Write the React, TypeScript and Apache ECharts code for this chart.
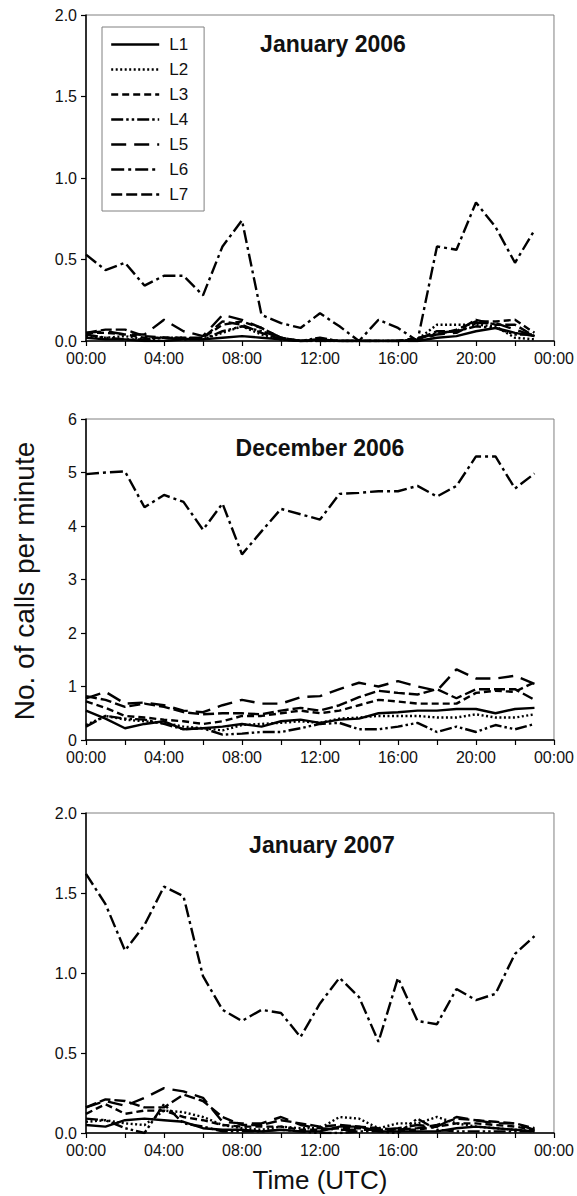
import React, { useEffect, useRef } from "react";
import * as echarts from "echarts";

// ---------- data ----------
const HOURS = [0, 1, 2, 3, 4, 5, 6, 7, 8, 9, 10, 11, 12, 13, 14, 15, 16, 17, 18, 19, 20, 21, 22, 23];
const X_TICK_LABELS = ["00:00", "04:00", "08:00", "12:00", "16:00", "20:00", "00:00"];
const SERIES_NAMES = ["L1", "L2", "L3", "L4", "L5", "L6", "L7"];
const PANEL_TITLES = ["January 2006", "December 2006", "January 2007"];
const Y_AXIS_TITLE = "No. of calls per minute";
const X_AXIS_TITLE = "Time (UTC)";

// January 2006
const JAN06_L1 = [0.02, 0.01, 0.01, 0.0, 0.0, 0.01, 0.01, 0.02, 0.03, 0.02, 0.01, 0.0, 0.01, 0.0, 0.0, 0.0, 0.0, 0.0, 0.02, 0.03, 0.06, 0.08, 0.05, 0.03];
const JAN06_L2 = [0.03, 0.02, 0.03, 0.01, 0.02, 0.02, 0.01, 0.05, 0.09, 0.04, 0.01, 0.0, 0.0, 0.0, 0.0, 0.0, 0.0, 0.01, 0.1, 0.1, 0.1, 0.09, 0.02, 0.01];
const JAN06_L3 = [0.05, 0.05, 0.04, 0.02, 0.02, 0.01, 0.02, 0.1, 0.12, 0.08, 0.02, 0.0, 0.01, 0.0, 0.0, 0.0, 0.0, 0.02, 0.04, 0.07, 0.12, 0.12, 0.13, 0.05];
const JAN06_L4 = [0.04, 0.02, 0.01, 0.01, 0.02, 0.01, 0.01, 0.06, 0.09, 0.06, 0.02, 0.0, 0.02, 0.0, 0.0, 0.0, 0.0, 0.01, 0.05, 0.06, 0.09, 0.08, 0.04, 0.04];
const JAN06_L5 = [0.05, 0.06, 0.04, 0.04, 0.13, 0.06, 0.03, 0.16, 0.13, 0.08, 0.02, 0.0, 0.0, 0.0, 0.0, 0.0, 0.0, 0.0, 0.04, 0.05, 0.11, 0.11, 0.07, 0.03];
const JAN06_L6 = [0.53, 0.435, 0.48, 0.34, 0.4, 0.4, 0.28, 0.58, 0.74, 0.16, 0.11, 0.08, 0.17, 0.09, 0.0, 0.13, 0.08, 0.0, 0.58, 0.56, 0.85, 0.7, 0.48, 0.68];
const JAN06_L7 = [0.05, 0.07, 0.07, 0.03, 0.02, 0.02, 0.02, 0.12, 0.1, 0.05, 0.01, 0.0, 0.0, 0.0, 0.0, 0.0, 0.0, 0.01, 0.06, 0.06, 0.13, 0.1, 0.1, 0.03];

// December 2006
const DEC06_L1 = [0.55, 0.4, 0.22, 0.3, 0.35, 0.2, 0.22, 0.25, 0.3, 0.25, 0.35, 0.38, 0.32, 0.38, 0.4, 0.5, 0.52, 0.55, 0.55, 0.58, 0.58, 0.5, 0.58, 0.6];
const DEC06_L2 = [0.28, 0.45, 0.38, 0.35, 0.32, 0.25, 0.22, 0.18, 0.28, 0.3, 0.32, 0.35, 0.32, 0.4, 0.42, 0.45, 0.45, 0.45, 0.42, 0.42, 0.48, 0.42, 0.42, 0.48];
const DEC06_L3 = [0.72, 0.6, 0.45, 0.42, 0.38, 0.35, 0.3, 0.35, 0.45, 0.45, 0.5, 0.55, 0.5, 0.55, 0.65, 0.75, 0.72, 0.68, 0.68, 0.68, 0.88, 0.92, 0.9, 1.08];
const DEC06_L4 = [0.25, 0.45, 0.4, 0.38, 0.3, 0.2, 0.22, 0.1, 0.12, 0.15, 0.15, 0.22, 0.3, 0.32, 0.2, 0.2, 0.25, 0.32, 0.15, 0.25, 0.15, 0.28, 0.2, 0.3];
const DEC06_L5 = [0.78, 0.9, 0.68, 0.7, 0.65, 0.55, 0.52, 0.65, 0.75, 0.68, 0.68, 0.8, 0.82, 0.95, 1.07, 1.0, 1.1, 1.0, 0.92, 1.32, 1.15, 1.15, 1.2, 1.05];
const DEC06_L6 = [4.97, 5.0, 5.02, 4.35, 4.58, 4.45, 3.93, 4.42, 3.47, 3.9, 4.32, 4.22, 4.12, 4.6, 4.62, 4.65, 4.65, 4.75, 4.55, 4.75, 5.3, 5.3, 4.7, 4.98];
const DEC06_L7 = [0.82, 0.75, 0.62, 0.68, 0.62, 0.52, 0.48, 0.5, 0.5, 0.48, 0.55, 0.6, 0.55, 0.65, 0.8, 0.92, 0.88, 0.85, 0.95, 0.78, 0.95, 0.95, 0.95, 0.75];

// January 2007
const JAN07_L1 = [0.05, 0.04, 0.08, 0.09, 0.08, 0.07, 0.03, 0.02, 0.02, 0.01, 0.02, 0.01, 0.01, 0.04, 0.04, 0.01, 0.01, 0.01, 0.01, 0.03, 0.04, 0.03, 0.02, 0.01];
const JAN07_L2 = [0.07, 0.08, 0.06, 0.05, 0.14, 0.13, 0.1, 0.05, 0.03, 0.02, 0.04, 0.03, 0.03, 0.1, 0.09, 0.03, 0.06, 0.06, 0.1, 0.06, 0.04, 0.03, 0.02, 0.01];
const JAN07_L3 = [0.12, 0.18, 0.12, 0.14, 0.14, 0.1, 0.08, 0.05, 0.04, 0.04, 0.04, 0.02, 0.02, 0.03, 0.03, 0.02, 0.02, 0.02, 0.04, 0.06, 0.06, 0.05, 0.04, 0.02];
const JAN07_L4 = [0.09, 0.08, 0.03, 0.0, 0.18, 0.06, 0.04, 0.01, 0.01, 0.01, 0.02, 0.01, 0.0, 0.0, 0.01, 0.01, 0.0, 0.09, 0.02, 0.01, 0.01, 0.01, 0.01, 0.01];
const JAN07_L5 = [0.16, 0.2, 0.17, 0.22, 0.28, 0.26, 0.22, 0.07, 0.06, 0.06, 0.1, 0.05, 0.03, 0.02, 0.02, 0.02, 0.03, 0.05, 0.04, 0.1, 0.08, 0.06, 0.06, 0.02];
const JAN07_L6 = [1.62, 1.43, 1.14, 1.3, 1.54, 1.48, 0.98, 0.77, 0.7, 0.77, 0.75, 0.6, 0.81, 0.97, 0.85, 0.57, 0.97, 0.7, 0.68, 0.9, 0.83, 0.87, 1.12, 1.23];
const JAN07_L7 = [0.16, 0.21, 0.2, 0.16, 0.16, 0.24, 0.2, 0.1, 0.05, 0.05, 0.08, 0.06, 0.04, 0.05, 0.04, 0.03, 0.02, 0.03, 0.05, 0.09, 0.08, 0.07, 0.06, 0.03];

const PANEL_DATA = [
  [JAN06_L1, JAN06_L2, JAN06_L3, JAN06_L4, JAN06_L5, JAN06_L6, JAN06_L7],
  [DEC06_L1, DEC06_L2, DEC06_L3, DEC06_L4, DEC06_L5, DEC06_L6, DEC06_L7],
  [JAN07_L1, JAN07_L2, JAN07_L3, JAN07_L4, JAN07_L5, JAN07_L6, JAN07_L7],
];
const Y_MAX = [2, 6, 2];
const Y_INTERVAL = [0.5, 1, 0.5];
const Y_DECIMALS = [1, 0, 1];

// ---------- styles ----------
const FONT = "'Liberation Sans', Arial, Helvetica, sans-serif";
const LINE_WIDTH = 2.4;
const DASHES: (string | number[])[] = [
  "solid",
  [2, 2.5],
  [7, 4],
  [12, 3, 2.5, 3, 2.5, 3],
  [15, 8],
  [13, 4, 3, 4],
  [11, 4],
];
const GRIDS = [
  { left: 86, top: 15, width: 468, height: 326 },
  { left: 86, top: 419, width: 468, height: 321 },
  { left: 86, top: 813, width: 468, height: 320 },
];
const TITLE_POS = [
  { x: 333, y: 44 },
  { x: 320, y: 448 },
  { x: 322, y: 845 },
];

export default function App() {
  const ref = useRef<HTMLDivElement>(null);

  useEffect(() => {
    document.body.style.margin = "0";
    document.body.style.overflow = "hidden";
    if (!ref.current) return;
    const chart = echarts.init(ref.current, undefined, { renderer: "svg" });

    const grid = GRIDS.map((g) => ({
      ...g,
      show: true,
      borderColor: "#808080",
      borderWidth: 1,
      backgroundColor: "transparent",
      containLabel: false,
    }));

    const xAxis = GRIDS.map((_, i) => ({
      type: "value",
      gridIndex: i,
      min: 0,
      max: 24,
      interval: 2,
      axisLine: { show: true, lineStyle: { color: "#000", width: 1.5 } },
      axisTick: { show: true, inside: false, length: 5, lineStyle: { color: "#000", width: 1.2 } },
      splitLine: { show: false },
      axisLabel: {
        margin: 9,
        color: "#111",
        fontSize: 16,
        fontFamily: FONT,
        formatter: (v: number) => (v % 4 === 0 ? X_TICK_LABELS[v / 4] : ""),
      },
    }));

    const yAxis = GRIDS.map((_, i) => ({
      type: "value",
      gridIndex: i,
      min: 0,
      max: Y_MAX[i],
      interval: Y_INTERVAL[i],
      axisLine: { show: true, lineStyle: { color: "#000", width: 1.5 } },
      axisTick: { show: true, inside: false, length: 5, lineStyle: { color: "#000", width: 1.2 } },
      splitLine: { show: false },
      axisLabel: {
        margin: 9,
        color: "#111",
        fontSize: 16,
        fontFamily: FONT,
        formatter: (v: number) => v.toFixed(Y_DECIMALS[i]),
      },
    }));

    const series: any[] = [];
    PANEL_DATA.forEach((panel, p) => {
      panel.forEach((vals, k) => {
        series.push({
          name: SERIES_NAMES[k],
          type: "line",
          xAxisIndex: p,
          yAxisIndex: p,
          data: HOURS.map((h, j) => [h, vals[j]]),
          symbol: "none",
          showSymbol: false,
          silent: true,
          lineStyle: { color: "#000", width: LINE_WIDTH, type: DASHES[k] },
          itemStyle: { color: "#000" },
          emphasis: { disabled: true },
        });
      });
    });

    const graphic: any[] = PANEL_TITLES.map((t, i) => ({
      type: "text",
      x: TITLE_POS[i].x,
      y: TITLE_POS[i].y,
      silent: true,
      style: {
        text: t,
        fill: "#111",
        font: `bold 23px ${FONT}`,
        textAlign: "center",
        textVerticalAlign: "middle",
        align: "center",
        verticalAlign: "middle",
      },
    }));
    graphic.push({
      type: "text",
      x: 24,
      y: 581,
      rotation: Math.PI / 2,
      silent: true,
      style: {
        text: Y_AXIS_TITLE,
        fill: "#111",
        font: `28px ${FONT}`,
        textAlign: "center",
        textVerticalAlign: "middle",
        align: "center",
        verticalAlign: "middle",
      },
    });
    graphic.push({
      type: "text",
      x: 320,
      y: 1180,
      silent: true,
      style: {
        text: X_AXIS_TITLE,
        fill: "#111",
        font: `26px ${FONT}`,
        textAlign: "center",
        textVerticalAlign: "middle",
        align: "center",
        verticalAlign: "middle",
      },
    });

    chart.setOption({
      animation: false,
      backgroundColor: "#fff",
      grid,
      xAxis,
      yAxis,
      series,
      graphic,
      legend: {
        orient: "vertical",
        left: 102,
        top: 27,
        data: SERIES_NAMES,
        itemWidth: 48,
        itemHeight: 14,
        itemGap: 8,
        selectedMode: false,
        borderColor: "#808080",
        borderWidth: 1,
        padding: [9, 16, 8, 8],
        itemStyle: { opacity: 0 },
        lineStyle: { width: LINE_WIDTH, color: "#000" },
        textStyle: { fontSize: 17, fontFamily: FONT, color: "#111", padding: [0, 0, 0, 5] },
      },
    });

    return () => chart.dispose();
  }, []);

  return <div ref={ref} style={{ width: 577, height: 1196 }} />;
}
